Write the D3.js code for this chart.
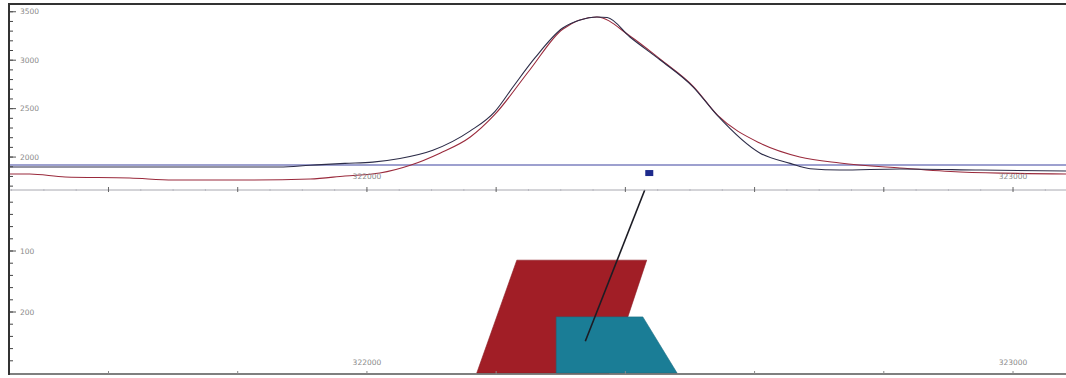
<!DOCTYPE html>
<html>
<head>
<meta charset="utf-8">
<script src="https://cdn.jsdelivr.net/npm/d3@7"></script>
<style>
  html, body { margin: 0; padding: 0; background: #fff; }
  svg { display: block; }
</style>
</head>
<body>
<div id="chart"></div>
<script>
// gravity profile: observed and calculated (easting, value)
const obsX = [321446, 321650, 321865, 321912, 321966, 322009, 322051, 322102, 322160, 322198,
  322226, 322260, 322303, 322330, 322356, 322372, 322407, 322454, 322505, 322543,
  322608, 322655, 322686, 322732, 322825, 322950, 323082];
const obsG = [1897, 1897, 1897, 1915, 1935, 1948, 1985, 2070, 2270, 2470,
  2723, 3023, 3332, 3415, 3446, 3440, 3239, 3002, 2723, 2424,
  2042, 1935, 1880, 1866, 1877, 1866, 1856];
const calcX = [321446, 321478, 321533, 321633, 321700, 321819, 321912, 321966, 322020, 322067,
  322113, 322160, 322198, 322252, 322303, 322356, 322407, 322454, 322505, 322543,
  322608, 322670, 322732, 322825, 322918, 323082];
const calcG = [1825, 1825, 1794, 1784, 1763, 1763, 1774, 1805, 1835, 1915,
  2040, 2207, 2440, 2899, 3320, 3446, 3250, 3010, 2730, 2430,
  2145, 2001, 1939, 1887, 1846, 1825];
const baseLevel = 1918;

// bodies in the section (easting, depth)
const body1X = [322232, 322433, 322375, 322170];
const body1Z = [115, 115, 300, 300];
const body2X = [322293, 322427, 322480, 322293];
const body2Z = [208, 208, 300, 300];
const bodyColors = ['#a11e26', '#1a7d96'];

// magnetisation vector and station marker
const vecX = [322430, 322338];
const vecZ = [0, 248];
const markerX = 322437;
const markerG = 1835;

const gTicks = [2000, 2500, 3000, 3500];
const zTicks = [100, 200];
const eTicks = [322000, 323000];

const W = 1066, H = 378;
const svg = d3.select('#chart').append('svg')
  .attr('width', W).attr('height', H);
svg.append('rect').attr('width', W).attr('height', H).attr('fill', '#fff');

const x = d3.scaleLinear().domain([321446, 323082]).range([9, 1066]);
const yG = d3.scaleLinear().domain([1660, 3580]).range([190, 4]);
const yZ = d3.scaleLinear().domain([0, 300]).range([190, 373]);

const labelFont = (sel) => sel
  .attr('font-family', 'DejaVu Sans, sans-serif')
  .attr('font-size', 7.5)
  .attr('fill', '#8a8a8a');

// --- lower section: bodies
const body = (xs, zs) => xs.map((v, i) => [x(v), yZ(zs[i])]);
svg.append('g').selectAll('polygon')
  .data([body(body1X, body1Z), body(body2X, body2Z)])
  .join('polygon')
  .attr('points', (d) => d.map((p) => p.join(',')).join(' '))
  .attr('fill', (d, i) => bodyColors[i])
  .attr('stroke', (d, i) => d3.color(bodyColors[i]).darker(0.4))
  .attr('stroke-width', 0.6);

svg.append('line')
  .attr('x1', x(vecX[0])).attr('y1', yZ(vecZ[0]))
  .attr('x2', x(vecX[1])).attr('y2', yZ(vecZ[1]))
  .attr('stroke', '#1c1c24').attr('stroke-width', 1.6);

// --- upper panel: reference level and curves
svg.append('line')
  .attr('x1', 9).attr('x2', W)
  .attr('y1', yG(baseLevel)).attr('y2', yG(baseLevel))
  .attr('stroke', '#7c80bf').attr('stroke-width', 1.4);

const line = d3.line().curve(d3.curveMonotoneX);
svg.append('path')
  .attr('d', line(calcX.map((v, i) => [x(v), yG(calcG[i])])))
  .attr('fill', 'none').attr('stroke', '#9a2a3c').attr('stroke-width', 1.1);
svg.append('path')
  .attr('d', line(obsX.map((v, i) => [x(v), yG(obsG[i])])))
  .attr('fill', 'none').attr('stroke', '#2c2c48').attr('stroke-width', 1.1);

svg.append('rect')
  .attr('x', x(markerX) - 4).attr('y', yG(markerG) - 3)
  .attr('width', 8).attr('height', 6)
  .attr('fill', '#1d2a8c');

// --- axes
// middle easting axis (between panels)
const midAxis = svg.append('g');
midAxis.append('line')
  .attr('x1', 9).attr('x2', W).attr('y1', 190).attr('y2', 190)
  .attr('stroke', '#a8a8b0').attr('stroke-width', 1);
midAxis.selectAll('line.minor')
  .data(d3.range(321450, 323081, 50))
  .join('line')
  .attr('x1', (d) => x(d)).attr('x2', (d) => x(d))
  .attr('y1', 189).attr('y2', 191)
  .attr('stroke', '#b8b8c0');
midAxis.selectAll('line.major')
  .data(d3.range(321600, 323081, 200))
  .join('line')
  .attr('x1', (d) => x(d)).attr('x2', (d) => x(d))
  .attr('y1', 187).attr('y2', 192)
  .attr('stroke', '#666');
midAxis.selectAll('text')
  .data(eTicks)
  .join('text')
  .attr('x', (d) => x(d)).attr('y', 179)
  .attr('text-anchor', 'middle')
  .call(labelFont)
  .text((d) => d);

// bottom easting axis
const botAxis = svg.append('g');
botAxis.append('line')
  .attr('x1', 9).attr('x2', W).attr('y1', 374).attr('y2', 374)
  .attr('stroke', '#555').attr('stroke-width', 1.6);
botAxis.selectAll('line.tick')
  .data(d3.range(321600, 323081, 200))
  .join('line')
  .attr('x1', (d) => x(d)).attr('x2', (d) => x(d))
  .attr('y1', 371).attr('y2', 374)
  .attr('stroke', '#888');
botAxis.selectAll('text')
  .data(eTicks)
  .join('text')
  .attr('x', (d) => x(d)).attr('y', 365)
  .attr('text-anchor', 'middle')
  .call(labelFont)
  .text((d) => d);

// gravity axis (left, ticks inside)
const gAxis = svg.append('g');
gAxis.selectAll('line.minor')
  .data(d3.range(1700, 3501, 100))
  .join('line')
  .attr('x1', 9).attr('x2', 13)
  .attr('y1', (d) => yG(d)).attr('y2', (d) => yG(d))
  .attr('stroke', '#444');
gAxis.selectAll('line.major')
  .data(gTicks)
  .join('line')
  .attr('x1', 9).attr('x2', 16)
  .attr('y1', (d) => yG(d)).attr('y2', (d) => yG(d))
  .attr('stroke', '#555');
gAxis.selectAll('text')
  .data(gTicks)
  .join('text')
  .attr('x', 20).attr('y', (d) => yG(d) + 2.5)
  .call(labelFont)
  .text((d) => d);

// depth axis
const zAxis = svg.append('g');
zAxis.selectAll('line.minor')
  .data(d3.range(20, 300, 20))
  .join('line')
  .attr('x1', 9).attr('x2', 13)
  .attr('y1', (d) => yZ(d)).attr('y2', (d) => yZ(d))
  .attr('stroke', '#444');
zAxis.selectAll('line.major')
  .data(zTicks)
  .join('line')
  .attr('x1', 9).attr('x2', 16)
  .attr('y1', (d) => yZ(d)).attr('y2', (d) => yZ(d))
  .attr('stroke', '#555');
zAxis.selectAll('text')
  .data(zTicks)
  .join('text')
  .attr('x', 20).attr('y', (d) => yZ(d) + 2.5)
  .call(labelFont)
  .text((d) => d);

// frame
svg.append('line').attr('x1', 9).attr('x2', W).attr('y1', 4).attr('y2', 4)
  .attr('stroke', '#333').attr('stroke-width', 2);
svg.append('line').attr('x1', 9).attr('x2', 9).attr('y1', 3).attr('y2', 375)
  .attr('stroke', '#333').attr('stroke-width', 2);
</script>
</body>
</html>
